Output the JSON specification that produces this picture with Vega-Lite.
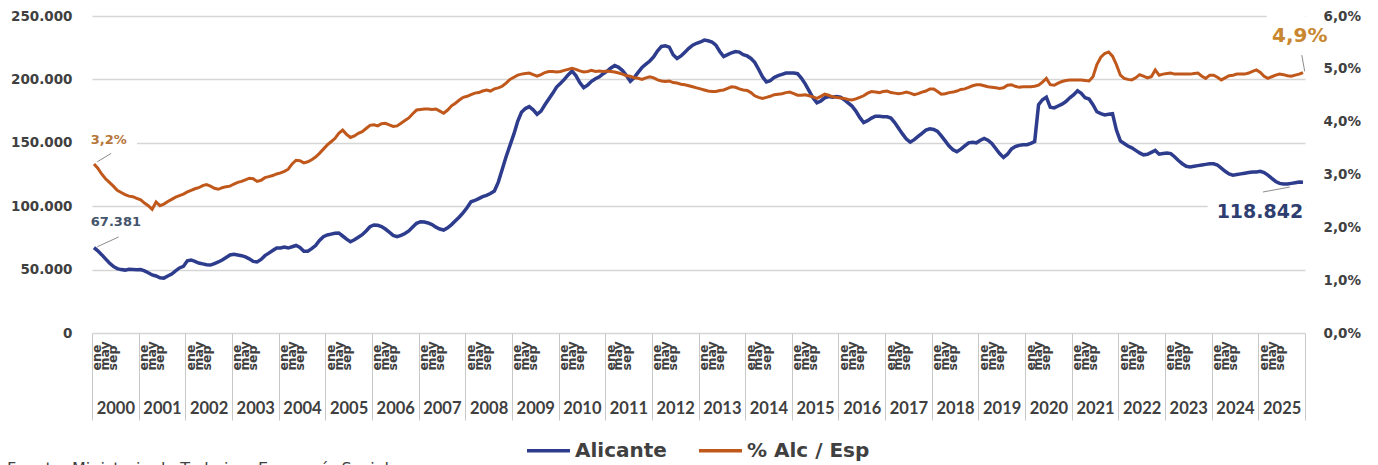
{
"$schema": "https://vega.github.io/schema/vega-lite/v6.json",
"width": 1213, "height": 317,
"autosize": "none",
"padding": {"left": 92, "top": 16, "right": 73, "bottom": 132},
"background": "white",
"config": {
  "view": {"stroke": null},
  "axis": {"domain": false, "ticks": false, "grid": false, "labelFont": "DejaVu Sans", "labelFontWeight": "bold", "labelColor": "#404040", "labelOverlap": false, "labelFlush": false}
},
"title": {"text": "Fuente: Ministerio de Trabajo y Economía Social", "orient": "bottom", "anchor": "start", "frame": "group", "offset": 0, "dx": -85, "font": "DejaVu Sans", "fontSize": 16, "fontWeight": "normal", "color": "#404040", "baseline": "top"},
"datasets": {
"serie": [
{"mes":"2000-01","alicante":67381,"pct":3.2},{"mes":"2000-02","alicante":64800,"pct":3.12},{"mes":"2000-03","alicante":61800,"pct":3.01},{"mes":"2000-04","alicante":58500,"pct":2.92},{"mes":"2000-05","alicante":55200,"pct":2.85},{"mes":"2000-06","alicante":52500,"pct":2.78},{"mes":"2000-07","alicante":50800,"pct":2.70},{"mes":"2000-08","alicante":50000,"pct":2.66},{"mes":"2000-09","alicante":49600,"pct":2.62},{"mes":"2000-10","alicante":50200,"pct":2.59},{"mes":"2000-11","alicante":50000,"pct":2.58},{"mes":"2000-12","alicante":49800,"pct":2.55},
{"mes":"2001-01","alicante":50000,"pct":2.52},{"mes":"2001-02","alicante":49000,"pct":2.46},{"mes":"2001-03","alicante":47500,"pct":2.41},{"mes":"2001-04","alicante":45800,"pct":2.34},{"mes":"2001-05","alicante":45000,"pct":2.48},{"mes":"2001-06","alicante":43500,"pct":2.41},{"mes":"2001-07","alicante":43300,"pct":2.44},{"mes":"2001-08","alicante":45000,"pct":2.49},{"mes":"2001-09","alicante":46500,"pct":2.53},{"mes":"2001-10","alicante":49000,"pct":2.57},{"mes":"2001-11","alicante":51300,"pct":2.60},{"mes":"2001-12","alicante":52500,"pct":2.63},
{"mes":"2002-01","alicante":57000,"pct":2.67},{"mes":"2002-02","alicante":57600,"pct":2.70},{"mes":"2002-03","alicante":56500,"pct":2.73},{"mes":"2002-04","alicante":55200,"pct":2.75},{"mes":"2002-05","alicante":54500,"pct":2.79},{"mes":"2002-06","alicante":53800,"pct":2.81},{"mes":"2002-07","alicante":53600,"pct":2.78},{"mes":"2002-08","alicante":54800,"pct":2.74},{"mes":"2002-09","alicante":56000,"pct":2.72},{"mes":"2002-10","alicante":57500,"pct":2.75},{"mes":"2002-11","alicante":59500,"pct":2.77},{"mes":"2002-12","alicante":61500,"pct":2.78},
{"mes":"2003-01","alicante":62000,"pct":2.82},{"mes":"2003-02","alicante":61500,"pct":2.85},{"mes":"2003-03","alicante":61000,"pct":2.87},{"mes":"2003-04","alicante":60000,"pct":2.90},{"mes":"2003-05","alicante":58500,"pct":2.93},{"mes":"2003-06","alicante":56500,"pct":2.92},{"mes":"2003-07","alicante":56000,"pct":2.87},{"mes":"2003-08","alicante":58000,"pct":2.89},{"mes":"2003-09","alicante":61000,"pct":2.94},{"mes":"2003-10","alicante":63000,"pct":2.96},{"mes":"2003-11","alicante":65000,"pct":2.98},{"mes":"2003-12","alicante":67000,"pct":3.01},
{"mes":"2004-01","alicante":67000,"pct":3.03},{"mes":"2004-02","alicante":67800,"pct":3.06},{"mes":"2004-03","alicante":67000,"pct":3.10},{"mes":"2004-04","alicante":68000,"pct":3.20},{"mes":"2004-05","alicante":69000,"pct":3.27},{"mes":"2004-06","alicante":67500,"pct":3.26},{"mes":"2004-07","alicante":64500,"pct":3.22},{"mes":"2004-08","alicante":64500,"pct":3.24},{"mes":"2004-09","alicante":66500,"pct":3.28},{"mes":"2004-10","alicante":69000,"pct":3.33},{"mes":"2004-11","alicante":73000,"pct":3.40},{"mes":"2004-12","alicante":76000,"pct":3.48},
{"mes":"2005-01","alicante":77300,"pct":3.56},{"mes":"2005-02","alicante":78000,"pct":3.62},{"mes":"2005-03","alicante":78600,"pct":3.68},{"mes":"2005-04","alicante":78900,"pct":3.78},{"mes":"2005-05","alicante":76500,"pct":3.84},{"mes":"2005-06","alicante":74000,"pct":3.76},{"mes":"2005-07","alicante":72000,"pct":3.70},{"mes":"2005-08","alicante":73500,"pct":3.73},{"mes":"2005-09","alicante":75500,"pct":3.78},{"mes":"2005-10","alicante":77500,"pct":3.81},{"mes":"2005-11","alicante":80500,"pct":3.87},{"mes":"2005-12","alicante":83800,"pct":3.93},
{"mes":"2006-01","alicante":85200,"pct":3.94},{"mes":"2006-02","alicante":85000,"pct":3.92},{"mes":"2006-03","alicante":84000,"pct":3.96},{"mes":"2006-04","alicante":82000,"pct":3.97},{"mes":"2006-05","alicante":79500,"pct":3.94},{"mes":"2006-06","alicante":77000,"pct":3.91},{"mes":"2006-07","alicante":76000,"pct":3.92},{"mes":"2006-08","alicante":77000,"pct":3.97},{"mes":"2006-09","alicante":78500,"pct":4.02},{"mes":"2006-10","alicante":80500,"pct":4.07},{"mes":"2006-11","alicante":83500,"pct":4.15},{"mes":"2006-12","alicante":86500,"pct":4.22},
{"mes":"2007-01","alicante":87800,"pct":4.23},{"mes":"2007-02","alicante":87500,"pct":4.24},{"mes":"2007-03","alicante":86800,"pct":4.24},{"mes":"2007-04","alicante":85500,"pct":4.23},{"mes":"2007-05","alicante":83500,"pct":4.24},{"mes":"2007-06","alicante":82000,"pct":4.20},{"mes":"2007-07","alicante":81200,"pct":4.16},{"mes":"2007-08","alicante":83000,"pct":4.22},{"mes":"2007-09","alicante":85500,"pct":4.30},{"mes":"2007-10","alicante":88500,"pct":4.35},{"mes":"2007-11","alicante":91500,"pct":4.41},{"mes":"2007-12","alicante":95000,"pct":4.46},
{"mes":"2008-01","alicante":99000,"pct":4.48},{"mes":"2008-02","alicante":103500,"pct":4.51},{"mes":"2008-03","alicante":104500,"pct":4.54},{"mes":"2008-04","alicante":106000,"pct":4.55},{"mes":"2008-05","alicante":107500,"pct":4.58},{"mes":"2008-06","alicante":108500,"pct":4.60},{"mes":"2008-07","alicante":110000,"pct":4.58},{"mes":"2008-08","alicante":112000,"pct":4.62},{"mes":"2008-09","alicante":119000,"pct":4.64},{"mes":"2008-10","alicante":129000,"pct":4.67},{"mes":"2008-11","alicante":139000,"pct":4.73},{"mes":"2008-12","alicante":148000,"pct":4.80},
{"mes":"2009-01","alicante":157000,"pct":4.84},{"mes":"2009-02","alicante":167000,"pct":4.88},{"mes":"2009-03","alicante":174000,"pct":4.90},{"mes":"2009-04","alicante":177000,"pct":4.91},{"mes":"2009-05","alicante":178500,"pct":4.92},{"mes":"2009-06","alicante":176000,"pct":4.89},{"mes":"2009-07","alicante":172500,"pct":4.86},{"mes":"2009-08","alicante":175000,"pct":4.89},{"mes":"2009-09","alicante":180000,"pct":4.93},{"mes":"2009-10","alicante":184500,"pct":4.95},{"mes":"2009-11","alicante":189000,"pct":4.95},{"mes":"2009-12","alicante":194000,"pct":4.94},
{"mes":"2010-01","alicante":197000,"pct":4.95},{"mes":"2010-02","alicante":200000,"pct":4.97},{"mes":"2010-03","alicante":203500,"pct":4.99},{"mes":"2010-04","alicante":206500,"pct":5.01},{"mes":"2010-05","alicante":203000,"pct":4.99},{"mes":"2010-06","alicante":197500,"pct":4.96},{"mes":"2010-07","alicante":193500,"pct":4.94},{"mes":"2010-08","alicante":195500,"pct":4.95},{"mes":"2010-09","alicante":198500,"pct":4.97},{"mes":"2010-10","alicante":200500,"pct":4.95},{"mes":"2010-11","alicante":202000,"pct":4.96},{"mes":"2010-12","alicante":204500,"pct":4.95},
{"mes":"2011-01","alicante":206500,"pct":4.96},{"mes":"2011-02","alicante":209000,"pct":4.95},{"mes":"2011-03","alicante":211000,"pct":4.94},{"mes":"2011-04","alicante":209500,"pct":4.92},{"mes":"2011-05","alicante":207000,"pct":4.90},{"mes":"2011-06","alicante":203000,"pct":4.87},{"mes":"2011-07","alicante":198500,"pct":4.86},{"mes":"2011-08","alicante":201500,"pct":4.83},{"mes":"2011-09","alicante":205500,"pct":4.82},{"mes":"2011-10","alicante":209500,"pct":4.80},{"mes":"2011-11","alicante":212000,"pct":4.83},{"mes":"2011-12","alicante":214500,"pct":4.85},
{"mes":"2012-01","alicante":218000,"pct":4.83},{"mes":"2012-02","alicante":222500,"pct":4.79},{"mes":"2012-03","alicante":226000,"pct":4.77},{"mes":"2012-04","alicante":226500,"pct":4.76},{"mes":"2012-05","alicante":225500,"pct":4.77},{"mes":"2012-06","alicante":219500,"pct":4.74},{"mes":"2012-07","alicante":216500,"pct":4.73},{"mes":"2012-08","alicante":218500,"pct":4.71},{"mes":"2012-09","alicante":221500,"pct":4.70},{"mes":"2012-10","alicante":224500,"pct":4.68},{"mes":"2012-11","alicante":227000,"pct":4.66},{"mes":"2012-12","alicante":228500,"pct":4.64},
{"mes":"2013-01","alicante":229500,"pct":4.62},{"mes":"2013-02","alicante":231000,"pct":4.60},{"mes":"2013-03","alicante":230500,"pct":4.58},{"mes":"2013-04","alicante":229500,"pct":4.57},{"mes":"2013-05","alicante":227000,"pct":4.57},{"mes":"2013-06","alicante":222000,"pct":4.59},{"mes":"2013-07","alicante":218000,"pct":4.60},{"mes":"2013-08","alicante":219500,"pct":4.63},{"mes":"2013-09","alicante":221000,"pct":4.66},{"mes":"2013-10","alicante":222000,"pct":4.65},{"mes":"2013-11","alicante":221500,"pct":4.62},{"mes":"2013-12","alicante":219500,"pct":4.60},
{"mes":"2014-01","alicante":218500,"pct":4.59},{"mes":"2014-02","alicante":216500,"pct":4.55},{"mes":"2014-03","alicante":213500,"pct":4.49},{"mes":"2014-04","alicante":208000,"pct":4.46},{"mes":"2014-05","alicante":202000,"pct":4.44},{"mes":"2014-06","alicante":198000,"pct":4.46},{"mes":"2014-07","alicante":199000,"pct":4.48},{"mes":"2014-08","alicante":201500,"pct":4.51},{"mes":"2014-09","alicante":203000,"pct":4.52},{"mes":"2014-10","alicante":204000,"pct":4.53},{"mes":"2014-11","alicante":205000,"pct":4.55},{"mes":"2014-12","alicante":205000,"pct":4.56},
{"mes":"2015-01","alicante":205000,"pct":4.53},{"mes":"2015-02","alicante":204500,"pct":4.50},{"mes":"2015-03","alicante":201000,"pct":4.50},{"mes":"2015-04","alicante":196500,"pct":4.51},{"mes":"2015-05","alicante":191000,"pct":4.49},{"mes":"2015-06","alicante":185500,"pct":4.47},{"mes":"2015-07","alicante":181500,"pct":4.44},{"mes":"2015-08","alicante":183000,"pct":4.48},{"mes":"2015-09","alicante":185500,"pct":4.52},{"mes":"2015-10","alicante":186500,"pct":4.50},{"mes":"2015-11","alicante":186000,"pct":4.47},{"mes":"2015-12","alicante":186500,"pct":4.46},
{"mes":"2016-01","alicante":186000,"pct":4.45},{"mes":"2016-02","alicante":184000,"pct":4.44},{"mes":"2016-03","alicante":181500,"pct":4.42},{"mes":"2016-04","alicante":179000,"pct":4.41},{"mes":"2016-05","alicante":175000,"pct":4.43},{"mes":"2016-06","alicante":170000,"pct":4.46},{"mes":"2016-07","alicante":166000,"pct":4.49},{"mes":"2016-08","alicante":167500,"pct":4.54},{"mes":"2016-09","alicante":169500,"pct":4.57},{"mes":"2016-10","alicante":171000,"pct":4.56},{"mes":"2016-11","alicante":171000,"pct":4.55},{"mes":"2016-12","alicante":170500,"pct":4.57},
{"mes":"2017-01","alicante":170500,"pct":4.58},{"mes":"2017-02","alicante":169500,"pct":4.55},{"mes":"2017-03","alicante":166000,"pct":4.54},{"mes":"2017-04","alicante":161500,"pct":4.53},{"mes":"2017-05","alicante":157000,"pct":4.54},{"mes":"2017-06","alicante":153000,"pct":4.56},{"mes":"2017-07","alicante":150500,"pct":4.54},{"mes":"2017-08","alicante":152500,"pct":4.51},{"mes":"2017-09","alicante":155000,"pct":4.53},{"mes":"2017-10","alicante":157500,"pct":4.56},{"mes":"2017-11","alicante":160000,"pct":4.58},{"mes":"2017-12","alicante":161000,"pct":4.62},
{"mes":"2018-01","alicante":160500,"pct":4.62},{"mes":"2018-02","alicante":159000,"pct":4.57},{"mes":"2018-03","alicante":155500,"pct":4.52},{"mes":"2018-04","alicante":151500,"pct":4.53},{"mes":"2018-05","alicante":147500,"pct":4.55},{"mes":"2018-06","alicante":144500,"pct":4.56},{"mes":"2018-07","alicante":143000,"pct":4.58},{"mes":"2018-08","alicante":145000,"pct":4.61},{"mes":"2018-09","alicante":147500,"pct":4.62},{"mes":"2018-10","alicante":150000,"pct":4.65},{"mes":"2018-11","alicante":150500,"pct":4.68},{"mes":"2018-12","alicante":150000,"pct":4.70},
{"mes":"2019-01","alicante":152000,"pct":4.70},{"mes":"2019-02","alicante":153500,"pct":4.68},{"mes":"2019-03","alicante":152000,"pct":4.66},{"mes":"2019-04","alicante":149500,"pct":4.65},{"mes":"2019-05","alicante":145500,"pct":4.64},{"mes":"2019-06","alicante":141500,"pct":4.63},{"mes":"2019-07","alicante":138500,"pct":4.64},{"mes":"2019-08","alicante":141000,"pct":4.69},{"mes":"2019-09","alicante":145000,"pct":4.70},{"mes":"2019-10","alicante":147000,"pct":4.67},{"mes":"2019-11","alicante":148000,"pct":4.65},{"mes":"2019-12","alicante":148500,"pct":4.66},
{"mes":"2020-01","alicante":148500,"pct":4.66},{"mes":"2020-02","alicante":149500,"pct":4.66},{"mes":"2020-03","alicante":151000,"pct":4.67},{"mes":"2020-04","alicante":180000,"pct":4.69},{"mes":"2020-05","alicante":184000,"pct":4.75},{"mes":"2020-06","alicante":186000,"pct":4.82},{"mes":"2020-07","alicante":178000,"pct":4.70},{"mes":"2020-08","alicante":177500,"pct":4.69},{"mes":"2020-09","alicante":179000,"pct":4.73},{"mes":"2020-10","alicante":180500,"pct":4.76},{"mes":"2020-11","alicante":182500,"pct":4.78},{"mes":"2020-12","alicante":185500,"pct":4.79},
{"mes":"2021-01","alicante":188000,"pct":4.79},{"mes":"2021-02","alicante":191000,"pct":4.79},{"mes":"2021-03","alicante":189000,"pct":4.79},{"mes":"2021-04","alicante":185500,"pct":4.78},{"mes":"2021-05","alicante":184500,"pct":4.77},{"mes":"2021-06","alicante":180000,"pct":4.85},{"mes":"2021-07","alicante":174500,"pct":5.08},{"mes":"2021-08","alicante":173000,"pct":5.22},{"mes":"2021-09","alicante":172000,"pct":5.29},{"mes":"2021-10","alicante":172500,"pct":5.32},{"mes":"2021-11","alicante":173000,"pct":5.24},{"mes":"2021-12","alicante":160000,"pct":5.08},
{"mes":"2022-01","alicante":151500,"pct":4.88},{"mes":"2022-02","alicante":149500,"pct":4.82},{"mes":"2022-03","alicante":147500,"pct":4.80},{"mes":"2022-04","alicante":146000,"pct":4.79},{"mes":"2022-05","alicante":144000,"pct":4.83},{"mes":"2022-06","alicante":142000,"pct":4.89},{"mes":"2022-07","alicante":140500,"pct":4.86},{"mes":"2022-08","alicante":141000,"pct":4.83},{"mes":"2022-09","alicante":142500,"pct":4.85},{"mes":"2022-10","alicante":144000,"pct":4.98},{"mes":"2022-11","alicante":141000,"pct":4.88},{"mes":"2022-12","alicante":141500,"pct":4.90},
{"mes":"2023-01","alicante":142000,"pct":4.91},{"mes":"2023-02","alicante":141500,"pct":4.92},{"mes":"2023-03","alicante":139000,"pct":4.90},{"mes":"2023-04","alicante":136000,"pct":4.90},{"mes":"2023-05","alicante":133500,"pct":4.90},{"mes":"2023-06","alicante":131500,"pct":4.90},{"mes":"2023-07","alicante":131000,"pct":4.90},{"mes":"2023-08","alicante":131500,"pct":4.91},{"mes":"2023-09","alicante":132000,"pct":4.92},{"mes":"2023-10","alicante":132500,"pct":4.86},{"mes":"2023-11","alicante":133000,"pct":4.82},{"mes":"2023-12","alicante":133500,"pct":4.88},
{"mes":"2024-01","alicante":133500,"pct":4.88},{"mes":"2024-02","alicante":132500,"pct":4.84},{"mes":"2024-03","alicante":130000,"pct":4.79},{"mes":"2024-04","alicante":127500,"pct":4.83},{"mes":"2024-05","alicante":125500,"pct":4.87},{"mes":"2024-06","alicante":124500,"pct":4.88},{"mes":"2024-07","alicante":125000,"pct":4.90},{"mes":"2024-08","alicante":125500,"pct":4.90},{"mes":"2024-09","alicante":126000,"pct":4.90},{"mes":"2024-10","alicante":126500,"pct":4.92},{"mes":"2024-11","alicante":127000,"pct":4.95},{"mes":"2024-12","alicante":127000,"pct":4.98},
{"mes":"2025-01","alicante":127500,"pct":4.93},{"mes":"2025-02","alicante":126500,"pct":4.86},{"mes":"2025-03","alicante":124500,"pct":4.82},{"mes":"2025-04","alicante":122000,"pct":4.85},{"mes":"2025-05","alicante":119500,"pct":4.88},{"mes":"2025-06","alicante":118000,"pct":4.90},{"mes":"2025-07","alicante":117500,"pct":4.89},{"mes":"2025-08","alicante":117500,"pct":4.87},{"mes":"2025-09","alicante":118000,"pct":4.86},{"mes":"2025-10","alicante":118500,"pct":4.88},{"mes":"2025-11","alicante":119000,"pct":4.90},{"mes":"2025-12","alicante":118842,"pct":4.93}
],
"fondos": [
{"fecha1":"1999-12-01","valor1":158500,"fecha2":"2000-12-18","valor2":145900},
{"fecha1":"2023-12-01","valor1":104900,"fecha2":"2026-01-01","valor2":86000},
{"fecha1":"2025-03-07","valor1":253000,"fecha2":"2026-01-01","valor2":224700}
],
"guias_alc": [
{"fecha1":"2000-02-11","valor1":68000,"fecha2":"2000-07-27","valor2":75700},
{"fecha1":"2025-02-06","valor1":111200,"fecha2":"2025-09-04","valor2":115100}
],
"guias_pct": [
{"fecha1":"2000-02-11","valor1":3.24,"fecha2":"2000-05-30","valor2":3.40},
{"fecha1":"2025-12-07","valor1":5.26,"fecha2":"2025-12-30","valor2":4.95}
],
"etiq_alc_ini": [{"fecha":"2000-07-06","valor":87500,"texto":"67.381"}],
"etiq_alc_fin": [{"fecha":"2025-01-13","valor":95400,"texto":"118.842"}],
"etiq_pct_ini": [{"fecha":"2000-05-12","valor":3.66,"texto":"3,2%"}],
"etiq_pct_fin": [{"fecha":"2025-11-21","valor":5.62,"texto":"4,9%"}]
},
"resolve": {"scale": {"y": "independent"}, "axis": {"x": "independent", "y": "independent"}},
"layer": [
{
  "data": {"name": "fondos"},
  "mark": {"type": "rect", "color": "white", "opacity": 1},
  "encoding": {
    "x": {"field": "fecha1", "type": "temporal", "title": null,
      "scale": {"type": "utc", "domain": [{"year": 2000, "month": 1, "date": 1, "utc": true}, {"year": 2026, "month": 1, "date": 1, "utc": true}]}, "axis": null},
    "x2": {"field": "fecha2"},
    "y": {"field": "valor1", "type": "quantitative", "title": null, "scale": {"domain": [0, 250000], "nice": false}, "axis": null},
    "y2": {"field": "valor2"}
  }
},
{
  "data": {"name": "serie"},
  "mark": {"type": "line", "strokeWidth": 3.5},
  "encoding": {
    "x": {"field": "mes", "type": "temporal", "timeUnit": "utcyearmonth", "bandPosition": 0.5, "title": null,
      "scale": {"type": "utc", "domain": [{"year": 2000, "month": 1, "date": 1, "utc": true}, {"year": 2026, "month": 1, "date": 1, "utc": true}]},
      "axis": {"orient": "bottom", "labelAngle": 270, "labelAlign": "left", "labelBaseline": "middle", "labelPadding": 37, "labelFontSize": 12.5,
        "labelExpr": "utcmonth(datum.value) == 1 ? 'ene' : (utcmonth(datum.value) == 3 ? 'may' : 'sep')",
        "values": [
{"year":2000,"month":2,"date":9,"utc":true},{"year":2000,"month":4,"date":11,"utc":true},{"year":2000,"month":6,"date":13,"utc":true},
{"year":2001,"month":2,"date":9,"utc":true},{"year":2001,"month":4,"date":11,"utc":true},{"year":2001,"month":6,"date":13,"utc":true},
{"year":2002,"month":2,"date":9,"utc":true},{"year":2002,"month":4,"date":11,"utc":true},{"year":2002,"month":6,"date":13,"utc":true},
{"year":2003,"month":2,"date":9,"utc":true},{"year":2003,"month":4,"date":11,"utc":true},{"year":2003,"month":6,"date":13,"utc":true},
{"year":2004,"month":2,"date":9,"utc":true},{"year":2004,"month":4,"date":11,"utc":true},{"year":2004,"month":6,"date":13,"utc":true},
{"year":2005,"month":2,"date":9,"utc":true},{"year":2005,"month":4,"date":11,"utc":true},{"year":2005,"month":6,"date":13,"utc":true},
{"year":2006,"month":2,"date":9,"utc":true},{"year":2006,"month":4,"date":11,"utc":true},{"year":2006,"month":6,"date":13,"utc":true},
{"year":2007,"month":2,"date":9,"utc":true},{"year":2007,"month":4,"date":11,"utc":true},{"year":2007,"month":6,"date":13,"utc":true},
{"year":2008,"month":2,"date":9,"utc":true},{"year":2008,"month":4,"date":11,"utc":true},{"year":2008,"month":6,"date":13,"utc":true},
{"year":2009,"month":2,"date":9,"utc":true},{"year":2009,"month":4,"date":11,"utc":true},{"year":2009,"month":6,"date":13,"utc":true},
{"year":2010,"month":2,"date":9,"utc":true},{"year":2010,"month":4,"date":11,"utc":true},{"year":2010,"month":6,"date":13,"utc":true},
{"year":2011,"month":2,"date":9,"utc":true},{"year":2011,"month":4,"date":11,"utc":true},{"year":2011,"month":6,"date":13,"utc":true},
{"year":2012,"month":2,"date":9,"utc":true},{"year":2012,"month":4,"date":11,"utc":true},{"year":2012,"month":6,"date":13,"utc":true},
{"year":2013,"month":2,"date":9,"utc":true},{"year":2013,"month":4,"date":11,"utc":true},{"year":2013,"month":6,"date":13,"utc":true},
{"year":2014,"month":2,"date":9,"utc":true},{"year":2014,"month":4,"date":11,"utc":true},{"year":2014,"month":6,"date":13,"utc":true},
{"year":2015,"month":2,"date":9,"utc":true},{"year":2015,"month":4,"date":11,"utc":true},{"year":2015,"month":6,"date":13,"utc":true},
{"year":2016,"month":2,"date":9,"utc":true},{"year":2016,"month":4,"date":11,"utc":true},{"year":2016,"month":6,"date":13,"utc":true},
{"year":2017,"month":2,"date":9,"utc":true},{"year":2017,"month":4,"date":11,"utc":true},{"year":2017,"month":6,"date":13,"utc":true},
{"year":2018,"month":2,"date":9,"utc":true},{"year":2018,"month":4,"date":11,"utc":true},{"year":2018,"month":6,"date":13,"utc":true},
{"year":2019,"month":2,"date":9,"utc":true},{"year":2019,"month":4,"date":11,"utc":true},{"year":2019,"month":6,"date":13,"utc":true},
{"year":2020,"month":2,"date":9,"utc":true},{"year":2020,"month":4,"date":11,"utc":true},{"year":2020,"month":6,"date":13,"utc":true},
{"year":2021,"month":2,"date":9,"utc":true},{"year":2021,"month":4,"date":11,"utc":true},{"year":2021,"month":6,"date":13,"utc":true},
{"year":2022,"month":2,"date":9,"utc":true},{"year":2022,"month":4,"date":11,"utc":true},{"year":2022,"month":6,"date":13,"utc":true},
{"year":2023,"month":2,"date":9,"utc":true},{"year":2023,"month":4,"date":11,"utc":true},{"year":2023,"month":6,"date":13,"utc":true},
{"year":2024,"month":2,"date":9,"utc":true},{"year":2024,"month":4,"date":11,"utc":true},{"year":2024,"month":6,"date":13,"utc":true},
{"year":2025,"month":2,"date":9,"utc":true},{"year":2025,"month":4,"date":11,"utc":true},{"year":2025,"month":6,"date":13,"utc":true}
        ]}},
    "y": {"field": "alicante", "type": "quantitative", "title": null,
      "scale": {"domain": [0, 250000], "nice": false},
      "axis": {"orient": "left", "values": [0, 50000, 100000, 150000, 200000, 250000], "grid": true, "gridColor": "#D6D6D6", "gridWidth": 1.5, "labelPadding": 20, "labelFontSize": 13.5, "labelExpr": "replace(format(datum.value, ','), ',', '.')"}},
    "color": {"datum": "Alicante", "type": "nominal",
      "scale": {"domain": ["Alicante", "% Alc / Esp"], "range": ["#2D3C8C", "#C0581B"]},
      "legend": {"title": null, "orient": "none", "legendX": 433, "legendY": 411, "direction": "horizontal", "symbolType": "stroke", "symbolSize": 1849, "symbolStrokeWidth": 3.5, "labelFont": "DejaVu Sans", "labelFontWeight": "bold", "labelFontSize": 20, "labelColor": "#404040", "columnPadding": 25, "labelOffset": 3, "padding": 0}}
  }
},
{
  "data": {"name": "serie"},
  "mark": {"type": "line", "strokeWidth": 3},
  "encoding": {
    "x": {"field": "mes", "type": "temporal", "timeUnit": "utcyearmonth", "bandPosition": 0.5, "title": null,
      "scale": {"type": "utc", "domain": [{"year": 2000, "month": 1, "date": 1, "utc": true}, {"year": 2026, "month": 1, "date": 1, "utc": true}]},
      "axis": {"orient": "bottom", "labelAngle": 0, "labelAlign": "center", "labelBaseline": "middle", "labelPadding": 75, "labelFont": "Lato", "labelFontSize": 16.5,
        "labelExpr": "'' + utcyear(datum.value)",
        "values": [
{"year":2000,"month":7,"date":2,"utc":true},{"year":2001,"month":7,"date":2,"utc":true},{"year":2002,"month":7,"date":2,"utc":true},{"year":2003,"month":7,"date":2,"utc":true},{"year":2004,"month":7,"date":2,"utc":true},{"year":2005,"month":7,"date":2,"utc":true},{"year":2006,"month":7,"date":2,"utc":true},{"year":2007,"month":7,"date":2,"utc":true},{"year":2008,"month":7,"date":2,"utc":true},{"year":2009,"month":7,"date":2,"utc":true},{"year":2010,"month":7,"date":2,"utc":true},{"year":2011,"month":7,"date":2,"utc":true},{"year":2012,"month":7,"date":2,"utc":true},{"year":2013,"month":7,"date":2,"utc":true},{"year":2014,"month":7,"date":2,"utc":true},{"year":2015,"month":7,"date":2,"utc":true},{"year":2016,"month":7,"date":2,"utc":true},{"year":2017,"month":7,"date":2,"utc":true},{"year":2018,"month":7,"date":2,"utc":true},{"year":2019,"month":7,"date":2,"utc":true},{"year":2020,"month":7,"date":2,"utc":true},{"year":2021,"month":7,"date":2,"utc":true},{"year":2022,"month":7,"date":2,"utc":true},{"year":2023,"month":7,"date":2,"utc":true},{"year":2024,"month":7,"date":2,"utc":true},{"year":2025,"month":7,"date":2,"utc":true}
        ]}},
    "y": {"field": "pct", "type": "quantitative", "title": null,
      "scale": {"domain": [0, 6], "nice": false},
      "axis": {"orient": "right", "values": [0, 1, 2, 3, 4, 5, 6], "labelPadding": 18, "labelFontSize": 13.5, "labelExpr": "replace(format(datum.value, '.1f'), '.', ',') + '%'"}},
    "color": {"datum": "% Alc / Esp", "type": "nominal",
      "scale": {"domain": ["Alicante", "% Alc / Esp"], "range": ["#2D3C8C", "#C0581B"]},
      "legend": {"title": null, "orient": "none", "legendX": 433, "legendY": 411, "direction": "horizontal", "symbolType": "stroke", "symbolSize": 1849, "symbolStrokeWidth": 3.5, "labelFont": "DejaVu Sans", "labelFontWeight": "bold", "labelFontSize": 20, "labelColor": "#404040", "columnPadding": 25, "labelOffset": 3, "padding": 0}}
  }
},
{
  "data": {"name": "guias_alc"},
  "mark": {"type": "rule", "color": "#8C8C8C", "strokeWidth": 1},
  "encoding": {
    "x": {"field": "fecha1", "type": "temporal", "title": null,
      "scale": {"type": "utc", "domain": [{"year": 2000, "month": 1, "date": 1, "utc": true}, {"year": 2026, "month": 1, "date": 1, "utc": true}]},
      "axis": {"orient": "bottom", "labels": false, "ticks": true, "tickSize": 87, "tickColor": "#C8C8C8", "tickWidth": 1,
        "values": [
{"year":2000,"month":1,"date":1,"utc":true},{"year":2001,"month":1,"date":1,"utc":true},{"year":2002,"month":1,"date":1,"utc":true},{"year":2003,"month":1,"date":1,"utc":true},{"year":2004,"month":1,"date":1,"utc":true},{"year":2005,"month":1,"date":1,"utc":true},{"year":2006,"month":1,"date":1,"utc":true},{"year":2007,"month":1,"date":1,"utc":true},{"year":2008,"month":1,"date":1,"utc":true},{"year":2009,"month":1,"date":1,"utc":true},{"year":2010,"month":1,"date":1,"utc":true},{"year":2011,"month":1,"date":1,"utc":true},{"year":2012,"month":1,"date":1,"utc":true},{"year":2013,"month":1,"date":1,"utc":true},{"year":2014,"month":1,"date":1,"utc":true},{"year":2015,"month":1,"date":1,"utc":true},{"year":2016,"month":1,"date":1,"utc":true},{"year":2017,"month":1,"date":1,"utc":true},{"year":2018,"month":1,"date":1,"utc":true},{"year":2019,"month":1,"date":1,"utc":true},{"year":2020,"month":1,"date":1,"utc":true},{"year":2021,"month":1,"date":1,"utc":true},{"year":2022,"month":1,"date":1,"utc":true},{"year":2023,"month":1,"date":1,"utc":true},{"year":2024,"month":1,"date":1,"utc":true},{"year":2025,"month":1,"date":1,"utc":true},{"year":2026,"month":1,"date":1,"utc":true}
        ]}},
    "x2": {"field": "fecha2"},
    "y": {"field": "valor1", "type": "quantitative", "title": null, "scale": {"domain": [0, 250000], "nice": false}, "axis": null},
    "y2": {"field": "valor2"}
  }
},
{
  "data": {"name": "guias_pct"},
  "mark": {"type": "rule", "color": "#8C8C8C", "strokeWidth": 1},
  "encoding": {
    "x": {"field": "fecha1", "type": "temporal", "title": null,
      "scale": {"type": "utc", "domain": [{"year": 2000, "month": 1, "date": 1, "utc": true}, {"year": 2026, "month": 1, "date": 1, "utc": true}]}, "axis": null},
    "x2": {"field": "fecha2"},
    "y": {"field": "valor1", "type": "quantitative", "title": null, "scale": {"domain": [0, 6], "nice": false}, "axis": null},
    "y2": {"field": "valor2"}
  }
},
{
  "data": {"name": "etiq_alc_ini"},
  "mark": {"type": "text", "font": "DejaVu Sans", "fontWeight": "bold", "fontSize": 13, "color": "#44546A", "align": "center", "baseline": "middle"},
  "encoding": {
    "x": {"field": "fecha", "type": "temporal", "title": null,
      "scale": {"type": "utc", "domain": [{"year": 2000, "month": 1, "date": 1, "utc": true}, {"year": 2026, "month": 1, "date": 1, "utc": true}]}, "axis": null},
    "y": {"field": "valor", "type": "quantitative", "title": null, "scale": {"domain": [0, 250000], "nice": false}, "axis": null},
    "text": {"field": "texto"}
  }
},
{
  "data": {"name": "etiq_alc_fin"},
  "mark": {"type": "text", "font": "DejaVu Sans", "fontWeight": "bold", "fontSize": 19, "color": "#2F3E70", "align": "center", "baseline": "middle"},
  "encoding": {
    "x": {"field": "fecha", "type": "temporal", "title": null,
      "scale": {"type": "utc", "domain": [{"year": 2000, "month": 1, "date": 1, "utc": true}, {"year": 2026, "month": 1, "date": 1, "utc": true}]}, "axis": null},
    "y": {"field": "valor", "type": "quantitative", "title": null, "scale": {"domain": [0, 250000], "nice": false}, "axis": null},
    "text": {"field": "texto"}
  }
},
{
  "data": {"name": "etiq_pct_ini"},
  "mark": {"type": "text", "font": "DejaVu Sans", "fontWeight": "bold", "fontSize": 13, "color": "#B5763A", "align": "center", "baseline": "middle"},
  "encoding": {
    "x": {"field": "fecha", "type": "temporal", "title": null,
      "scale": {"type": "utc", "domain": [{"year": 2000, "month": 1, "date": 1, "utc": true}, {"year": 2026, "month": 1, "date": 1, "utc": true}]}, "axis": null},
    "y": {"field": "valor", "type": "quantitative", "title": null, "scale": {"domain": [0, 6], "nice": false}, "axis": null},
    "text": {"field": "texto"}
  }
},
{
  "data": {"name": "etiq_pct_fin"},
  "mark": {"type": "text", "font": "DejaVu Sans", "fontWeight": "bold", "fontSize": 20, "color": "#C8862E", "align": "center", "baseline": "middle"},
  "encoding": {
    "x": {"field": "fecha", "type": "temporal", "title": null,
      "scale": {"type": "utc", "domain": [{"year": 2000, "month": 1, "date": 1, "utc": true}, {"year": 2026, "month": 1, "date": 1, "utc": true}]}, "axis": null},
    "y": {"field": "valor", "type": "quantitative", "title": null, "scale": {"domain": [0, 6], "nice": false}, "axis": null},
    "text": {"field": "texto"}
  }
}
]
}
